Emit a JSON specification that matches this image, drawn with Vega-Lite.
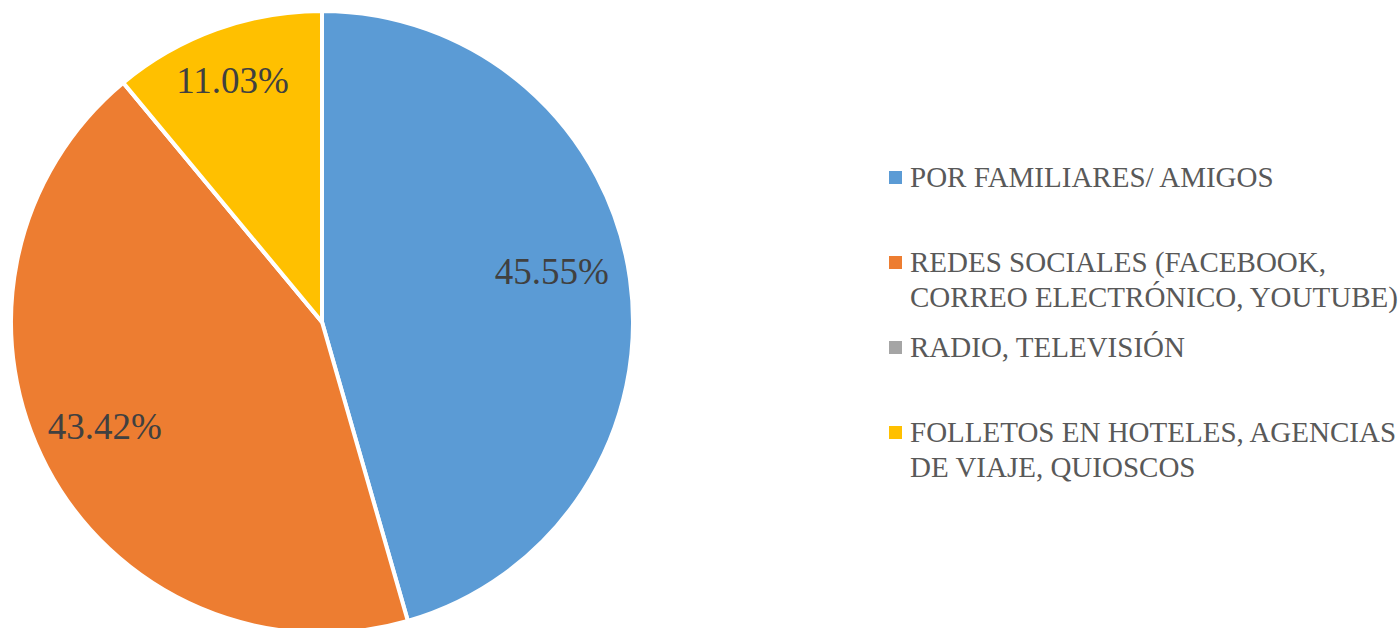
{
"$schema":"https://vega.github.io/schema/vega-lite/v6.json",
"width":644,"height":644,
"autosize":{"type":"none"},
"padding":{"left":0,"top":0,"right":756,"bottom":0},
"background":"white",
"view":{"stroke":null},
"config":{"style":{"guide-label":{"lineHeight":35}}},
"data":{"values":[
{"categoria":"POR FAMILIARES/ AMIGOS|","orden":1,"valor":45.55,"texto":"45.55%"},
{"categoria":"REDES SOCIALES (FACEBOOK,|CORREO ELECTRÓNICO, YOUTUBE)","orden":2,"valor":43.42,"texto":"43.42%"},
{"categoria":"RADIO, TELEVISIÓN|","orden":3,"valor":0,"texto":""},
{"categoria":"FOLLETOS EN HOTELES, AGENCIAS|DE VIAJE, QUIOSCOS","orden":4,"valor":11.03,"texto":"11.03%"}
]},
"encoding":{
"theta":{"field":"valor","type":"quantitative","stack":true,"scale":{"domain":[0,100]}},
"order":{"field":"orden","type":"quantitative"}
},
"layer":[
{"mark":{"type":"arc","outerRadius":311,"stroke":"white","strokeWidth":4},
"encoding":{"color":{"field":"categoria","type":"nominal",
"scale":{"domain":["POR FAMILIARES/ AMIGOS|","REDES SOCIALES (FACEBOOK,|CORREO ELECTRÓNICO, YOUTUBE)","RADIO, TELEVISIÓN|","FOLLETOS EN HOTELES, AGENCIAS|DE VIAJE, QUIOSCOS"],"range":["#5B9BD5","#ED7D31","#A5A5A5","#FFC000"]},
"legend":{"orient":"none","legendX":881,"legendY":163,"title":null,"symbolType":"square","symbolSize":169,"symbolStrokeWidth":0,"labelFont":"Liberation Serif","labelFontSize":29,"labelColor":"#595959","labelLimit":600,"labelOffset":0,"rowPadding":20,"labelExpr":"split(datum.label,'|')"}}}},
{"mark":{"type":"text","radius":240,"font":"Liberation Serif","fontSize":37,"color":"#404040","dx":{"expr":"datum.orden==1?-8:datum.orden==2?-5:datum.orden==4?-8:0"},"dy":{"expr":"datum.orden==1?-16:datum.orden==2?-6:datum.orden==4?-14:0"}},
"encoding":{"text":{"field":"texto","type":"nominal"}}}
]
}
